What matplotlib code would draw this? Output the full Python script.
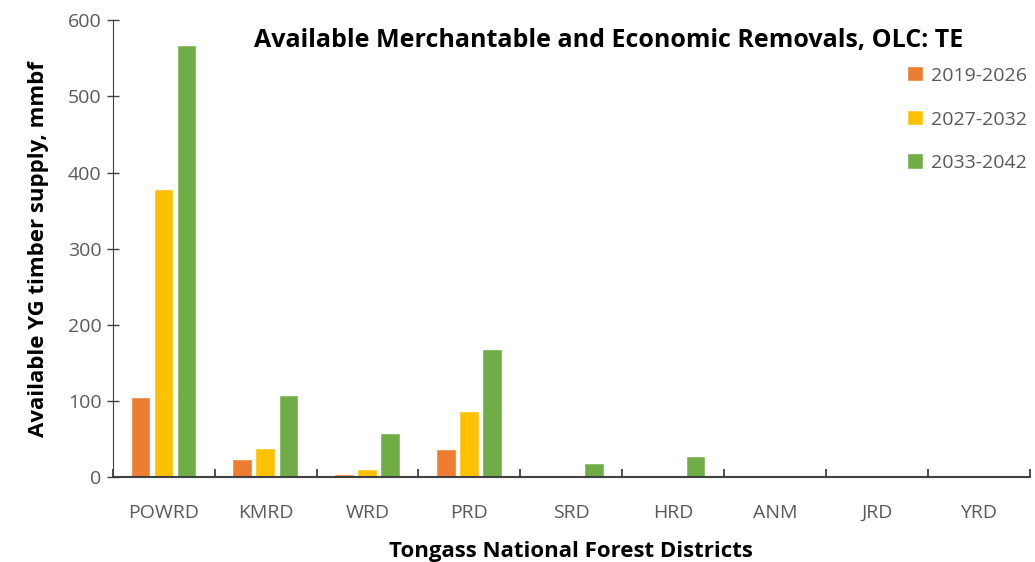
import matplotlib
matplotlib.use("Agg")
import matplotlib.pyplot as plt
import numpy as np

districts = ["POWRD", "KMRD", "WRD", "PRD", "SRD", "HRD", "ANM", "JRD", "YRD"]
periods = ["2019-2026", "2027-2032", "2033-2042"]
supply_2019 = [104.5, 22, 2.6, 35, 0, 0, 0, 0, 0]
supply_2027 = [377, 37.5, 8.8, 85, 2, 2, 0, 0, 0]
supply_2033 = [566, 106.5, 56, 167.5, 17.5, 26, 0, 0, 0]
colors = ["#ED7D31", "#FFC000", "#70AD47"]

plt.rcParams["font.family"] = ["Open Sans", "DejaVu Sans"]

fig = plt.figure(figsize=(10.35, 5.62), dpi=100)
ax = fig.add_axes([0.109, 0.151, 0.886, 0.813])

x = np.arange(len(districts))
w = 0.18
step = 0.226
for i, (vals, lab, col) in enumerate(zip([supply_2019, supply_2027, supply_2033], periods, colors)):
    ax.bar(x + (i - 1) * step, vals, width=w, color=col, edgecolor="#ffffff",
           linewidth=0.3, label=lab)

ax.set_xlim(-0.5, len(districts) - 0.5)
ax.set_ylim(0, 600)
ax.set_yticks(range(0, 601, 100))
ax.set_xticks(x)
ax.set_xticklabels(districts)
ax.set_xticks(np.arange(-0.5, len(districts), 1.0), minor=True)
ax.tick_params(axis="x", which="major", length=0, pad=19, labelsize=14, colors="#595959")
ax.tick_params(axis="x", which="minor", direction="in", length=6, width=1.3, color="#404040")
ax.tick_params(axis="y", direction="inout", length=8, width=1.0, color="#404040",
               labelsize=14, labelcolor="#595959", pad=4)

for s in ("top", "right"):
    ax.spines[s].set_visible(False)
ax.spines["left"].set_color("#404040")
ax.spines["bottom"].set_color("#404040")
ax.spines["bottom"].set_linewidth(1.5)

ax.set_xlabel("Tongass National Forest Districts", fontsize=16, fontweight="bold", labelpad=14)
ax.set_ylabel("Available YG timber supply, mmbf", fontsize=16, fontweight="bold", labelpad=14)
ax.text(0.541, 0.955, "Available Merchantable and Economic Removals, OLC: TE",
        transform=ax.transAxes, ha="center", va="center", fontsize=18, fontweight="bold")

leg = ax.legend(loc="upper right", bbox_to_anchor=(1.005, 0.915), frameon=False,
                fontsize=14, handlelength=0.75, handleheight=0.75, handletextpad=0.4,
                labelspacing=1.32, borderaxespad=0)
for t in leg.get_texts():
    t.set_color("#595959")

fig.savefig("out.png", dpi=100)
